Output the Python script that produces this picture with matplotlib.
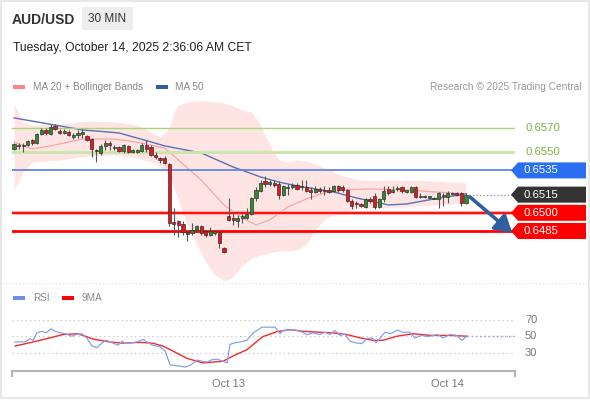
import matplotlib
matplotlib.use("Agg")
import matplotlib.pyplot as plt
from matplotlib.patches import Polygon, Rectangle, FancyBboxPatch
from matplotlib.transforms import blended_transform_factory
import numpy as np

plt.rcParams["font.family"] = ["Liberation Sans", "DejaVu Sans"]

W, H = 590, 400

# ── Price data (30 min candles, AUD/USD) ─────────────────────────────
OPEN = [.6553, .6556, .6555, .6556, .6560, .6558, .6565, .6568, .6565, .6572,
        .6567, .6566, .6567, .6563, .6564, .6566, .6563, .6561, .6552, .6549,
        .6555, .6558, .6554, .6554, .6551, .6555, .6551, .6550, .6551, .6556,
        .6554, .6548, .6545, .6545, .6540, .6492, .6493, .6491, .6484, .6483,
        .6486, .6489, .6485, .6482, .6484, .6484, .6471, .6497, .6496, .6493,
        .6496, .6496, .6499, .6512, .6518, .6526, .6524, .6525, .6524, .6515,
        .6521, .6521, .6523, .6521, .6521, .6519, .6517, .6520, .6519, .6519,
        .6518, .6522, .6521, .6519, .6510, .6508, .6507, .6505, .6511, .6514,
        .6505, .6511, .6520, .6517, .6520, .6521, .6518, .6517, .6521, .6513,
        .6514, .6513, .6512, .6511, .6515, .6513, .6516, .6516, .6516, .6508]
HIGH = [.6558, .6558, .6558, .6560, .6561, .6566, .6570, .6570, .6573, .6573,
        .6569, .6569, .6568, .6566, .6568, .6569, .6564, .6562, .6553, .6557,
        .6560, .6559, .6556, .6555, .6557, .6556, .6553, .6553, .6558, .6560,
        .6556, .6550, .6546, .6547, .6541, .6504, .6494, .6493, .6486, .6492,
        .6490, .6490, .6486, .6488, .6485, .6485, .6472, .6512, .6501, .6498,
        .6499, .6504, .6513, .6521, .6527, .6530, .6527, .6527, .6526, .6523,
        .6524, .6525, .6525, .6527, .6527, .6521, .6522, .6521, .6522, .6521,
        .6523, .6523, .6523, .6520, .6511, .6510, .6508, .6512, .6513, .6516,
        .6512, .6522, .6522, .6522, .6522, .6522, .6519, .6522, .6522, .6516,
        .6515, .6514, .6513, .6517, .6516, .6518, .6517, .6517, .6517, .6516]
LOW = [.6552, .6553, .6550, .6555, .6556, .6557, .6564, .6564, .6564, .6568,
       .6565, .6565, .6563, .6561, .6562, .6562, .6559, .6546, .6542, .6548,
       .6552, .6552, .6552, .6550, .6549, .6549, .6549, .6549, .6550, .6550,
       .6547, .6544, .6541, .6540, .6489, .6482, .6480, .6482, .6477, .6482,
       .6484, .6482, .6480, .6481, .6482, .6471, .6467, .6493, .6490, .6488,
       .6492, .6495, .6498, .6510, .6517, .6521, .6522, .6521, .6511, .6514,
       .6515, .6520, .6519, .6519, .6517, .6511, .6516, .6516, .6515, .6516,
       .6517, .6517, .6517, .6509, .6503, .6504, .6505, .6504, .6508, .6503,
       .6504, .6509, .6515, .6516, .6518, .6516, .6516, .6516, .6512, .6512,
       .6512, .6511, .6511, .6504, .6506, .6508, .6515, .6514, .6506, .6507]
CLOSE = [.6557, .6555, .6556, .6559, .6558, .6565, .6568, .6566, .6571, .6569,
         .6566, .6567, .6564, .6564, .6566, .6566, .6560, .6553, .6551, .6555,
         .6558, .6556, .6554, .6551, .6556, .6550, .6551, .6552, .6556, .6553,
         .6548, .6546, .6544, .6541, .6492, .6491, .6490, .6484, .6483, .6486,
         .6489, .6483, .6482, .6485, .6484, .6475, .6468, .6494, .6494, .6496,
         .6497, .6499, .6512, .6519, .6525, .6524, .6525, .6523, .6515, .6522,
         .6521, .6523, .6520, .6522, .6518, .6517, .6520, .6518, .6518, .6517,
         .6522, .6519, .6519, .6510, .6506, .6507, .6506, .6511, .6510, .6505,
         .6511, .6518, .6516, .6519, .6520, .6518, .6518, .6521, .6513, .6514,
         .6513, .6513, .6512, .6516, .6514, .6516, .6516, .6515, .6508, .6515]

# MA 20
MA20_IDX = [0, 4, 8, 15, 22, 28, 33, 36, 41, 46, 50, 53, 56, 60, 64, 68, 72, 78, 86, 92, 99]
MA20 = [.65584, .65527, .65552, .65609, .65609, .65576, .65535, .65436, .65271, .65065,
        .64958, .64900, .64941, .65048, .65114, .65164, .65189, .65197, .65189, .65172, .65156]

# MA 50
MA50_IDX = [0, 15, 23, 30, 33, 41, 48, 54, 58, 62, 70, 75, 82, 86, 92, 99]
MA50 = [.65783, .65684, .65659, .65585, .65552, .65494, .65378, .65296, .65254, .65222,
        .65172, .65123, .65065, .65073, .65114, .65156]

# Bollinger bands
BB_IDX = [0, 2, 4, 10, 16, 22, 27, 30, 32, 34, 35, 36, 38, 40, 42, 44, 46, 48, 50,
          52, 54, 56, 58, 60, 62, 64, 66, 68, 72, 76, 85, 92, 99]
BB_UP = [.65898, .65750, .65725, .65733, .65758, .65750, .65725, .65667, .65626, .65700,
         .65832, .65890, .65915, .65923, .65923, .65915, .65906, .65882, .65849, .65832,
         .65725, .65560, .65436, .65420, .65436, .65428, .65403, .65370, .65304, .65271,
         .65271, .65263, .65246]
BB_LO = [.65189, .65337, .65420, .65436, .65469, .65477, .65453, .65420, .65387, .65312,
         .65205, .65106, .64900, .64735, .64595, .64487, .64438, .64471, .64562, .64628,
         .64652, .64669, .64685, .64685, .64694, .64735, .64859, .64949, .65015, .65040,
         .65048, .65065, .65081]

# RSI and its 9 period MA
RSI_POS = [0.2, 2.4, 3.5, 4.2, 5.0, 6.1, 7.0, 8.1, 9.0, 10.1, 11.2, 12.7, 13.6, 14.9, 16.0,
           17.1, 18.2, 19.3, 20.2, 21.5, 22.8, 23.7, 24.3, 25.8, 26.9, 28.3, 29.4, 30.4,
           32.0, 33.1, 34.2, 35.9, 37.5, 38.6, 40.1, 41.2, 42.3, 43.4, 44.5, 45.6, 46.7,
           47.3, 48.4, 49.5, 51.0, 52.4, 54.3, 56.1, 57.2, 58.3, 58.9, 61.1, 62.7, 64.2,
           65.5, 67.0, 68.1, 69.2, 70.3, 71.4, 72.5, 73.6, 74.7, 76.2, 77.3, 78.4, 79.3,
           80.4, 81.3, 82.4, 84.1, 85.2, 86.7, 87.8, 89.4, 90.7, 92.7, 94.0, 95.5, 97.0,
           98.1, 99.2]
RSI = [43, 43, 47, 45, 54, 56, 54, 59, 56, 54, 53, 50, 52, 53, 47,
       38, 36, 42, 45, 42, 39, 44, 41, 42, 43, 46, 42, 39,
       37, 32, 15, 14, 12.5, 14.5, 21, 19.5, 18.5, 21.5, 22, 20, 17.5,
       40, 42, 43, 45, 54, 61, 61, 61, 53, 57, 58, 56, 52,
       54, 52, 55, 52, 57, 51, 52.5, 44, 42, 41, 47, 48, 42,
       49, 55, 53, 57.5, 54.5, 55, 48, 51, 49.5, 52, 48, 52, 51,
       45, 50]
RSI_MA_POS = [0.2, 4.2, 7.9, 10.7, 13.8, 15.1, 17.3, 21.0, 23.9, 27.6, 30.4, 32.6, 34.8,
              37.9, 41.4, 43.6, 45.8, 48.0, 51.0, 54.5, 57.6, 60.5, 63.3, 66.4, 69.9,
              72.9, 75.8, 78.6, 80.8, 83.9, 87.4, 91.1, 95.5, 99.2]
RSI_MA = [38, 43, 48, 52, 53, 51, 46.5, 43, 41.5, 42.5, 41.5, 38, 32,
          23, 17.5, 18.5, 19.5, 26, 33.5, 49.5, 55.5, 58, 56, 55, 54,
          52, 48, 45, 45, 50, 53, 51, 51, 50]

# Key levels
RES2, RES1, PIVOT, LAST, SUP1, SUP2 = 0.6570, 0.6550, 0.6535, 0.6515, 0.6500, 0.6485
DAY_TICKS = [47, 95]
DAY_LABELS = ["Oct 13", "Oct 14"]

GREEN = "#2e8b2e"
RED = "#e8161b"


def fx(x):
    return x / W


def fy(y):
    return 1 - y / H


fig = plt.figure(figsize=(W / 100, H / 100), dpi=100)

# frame
fig.add_artist(Rectangle((fx(1), fy(398)), fx(588), 397 / H, transform=fig.transFigure,
                         fill=False, edgecolor="#e4e4e4", lw=1.2))

# ── Header ────────────────────────────────────────────────────────────
fig.text(fx(12), fy(20), "AUD/USD", fontsize=10, fontweight="bold", color="#333", va="center")
fig.add_artist(FancyBboxPatch((fx(82), fy(30)), fx(51), 23 / H, transform=fig.transFigure,
                              boxstyle="square,pad=0", facecolor="#ededed", edgecolor="none"))
fig.text(fx(107.5), fy(19.5), "30 MIN", fontsize=8.5, color="#333", ha="center", va="center")
fig.text(fx(13), fy(48), "Tuesday, October 14, 2025 2:36:06 AM CET", fontsize=8.7,
         color="#222", va="center")

# legend row
fig.add_artist(Rectangle((fx(13), fy(88.5)), fx(12), 4 / H, transform=fig.transFigure,
                         facecolor="#ff8585", edgecolor="none"))
fig.text(fx(33), fy(86.5), "MA 20 + Bollinger Bands", fontsize=7.2, color="#888", va="center")
fig.add_artist(Rectangle((fx(156), fy(88.5)), fx(12), 4 / H, transform=fig.transFigure,
                         facecolor="#2f5da8", edgecolor="none"))
fig.text(fx(175), fy(86.5), "MA 50", fontsize=7.2, color="#888", va="center")
fig.text(fx(581), fy(86.5), "Research \u00a9 2025 Trading Central", fontsize=7.3, color="#999",
         va="center", ha="right")

# ── Main price panel ─────────────────────────────────────────────────
ax = fig.add_axes([fx(12), fy(283), 503 / W, 188 / H])
x_left, x_right = -0.44, 109.75
ax.set_xlim(x_left, x_right)
ax.set_ylim(0.64421, 0.65972)
ax.axis("off")

ax.fill_between(BB_IDX, BB_LO, BB_UP, color="#ffe2e2", lw=0, alpha=0.9, zorder=1)
ax.plot(MA20_IDX, MA20, color="#f8a6a6", lw=0.9, zorder=2)
ax.plot(MA50_IDX, MA50, color="#5673b5", lw=1.0, zorder=2)

ax.axhline(RES2, color="#a8d67a", lw=1.0, zorder=3)
ax.axhline(RES1, color="#c8e6aa", lw=2.0, zorder=3)
ax.axhline(PIVOT, color="#5f85e8", lw=1.3, zorder=3)
ax.axhline(SUP1, color="#ffb0b0", lw=3.0, zorder=3)
ax.axhline(SUP1, color="#ff0000", lw=1.3, zorder=3)
ax.axhline(SUP2, color="#ff0000", lw=2.0, zorder=3)

idx = np.arange(len(CLOSE))
o, h, l, c = map(np.array, (OPEN, HIGH, LOW, CLOSE))
ax.vlines(idx, l, h, color="#555", lw=0.8, zorder=4)
body = np.maximum(np.abs(c - o), 0.00012)
cols = [GREEN if cc >= oo else RED for oo, cc in zip(o, c)]
ax.bar(idx, body, bottom=np.minimum(o, c) - (body - np.abs(c - o)) / 2, width=0.7,
       color=cols, edgecolor="#333", linewidth=0.5, zorder=5)

# last price dotted line
ax.hlines(LAST, len(CLOSE) - 0.3, x_right, color="#999", lw=1.0, linestyles=(0, (1, 1.5)), zorder=3)

# target arrow
ax.annotate("", xy=(x_right - 0.6, SUP2 - 0.00016), xytext=(len(CLOSE) - 0.1, LAST - 0.0002),
            arrowprops=dict(arrowstyle="-|>,head_length=1.0,head_width=0.6",
                            color="#2f5f9e", lw=2.6, shrinkA=0, shrinkB=0),
            annotation_clip=False, zorder=6)

# level tags on the right
tr = blended_transform_factory(fig.transFigure, ax.transData)
half = 8 / 12118.0


def tag(level, color, text_color="white"):
    pts = [(fx(511), level), (fx(518), level + half), (fx(586), level + half),
           (fx(586), level - half), (fx(518), level - half)]
    ax.add_patch(Polygon(pts, closed=True, transform=tr, facecolor=color,
                         edgecolor="none", clip_on=False, zorder=7))
    ax.text(fx(524), level, f"{level:.4f}", transform=tr, color=text_color,
            fontsize=8.2, va="center", ha="left", clip_on=False, zorder=8)


for lvl in (RES2, RES1):
    ax.text(fx(525), lvl, f"{lvl:.4f}", transform=tr, color="#7cb342", fontsize=8.2,
            va="center", ha="left", clip_on=False)
tag(PIVOT, "#2a6ef2")
tag(LAST, "#333333")
tag(SUP1, "#ff0000")
tag(SUP2, "#ff0000")

# separator
fig.add_artist(plt.Line2D([fx(2), fx(588)], [fy(283), fy(283)], transform=fig.transFigure,
                          color="#dddddd", lw=0.8, linestyle=(0, (1, 2))))

# ── RSI panel ────────────────────────────────────────────────────────
fig.add_artist(Rectangle((fx(13), fy(300)), fx(12), 4 / H, transform=fig.transFigure,
                         facecolor="#6d8fe8", edgecolor="none"))
fig.text(fx(33), fy(298), "RSI", fontsize=7.2, color="#888", va="center")
fig.add_artist(Rectangle((fx(62), fy(300)), fx(12), 4 / H, transform=fig.transFigure,
                         facecolor="#ff0000", edgecolor="none"))
fig.text(fx(82), fy(298), "9MA", fontsize=7.2, color="#888", va="center")

ax2 = fig.add_axes([fx(12), fy(370.7), 503 / W, (370.7 - 305) / H])
ax2.set_xlim(x_left, x_right)
ax2.set_ylim(8, 88)
for s in ("top", "right", "left"):
    ax2.spines[s].set_visible(False)
ax2.spines["bottom"].set_color("#b5b5b5")
ax2.spines["bottom"].set_linewidth(1.5)
ax2.set_yticks([])
ax2.set_xticks(DAY_TICKS)
ax2.set_xticklabels(DAY_LABELS, fontsize=8, color="#777")
ax2.tick_params(axis="x", length=0, pad=6)
for xe in (0, 1):
    ax2.plot([xe, xe], [0, -0.08], transform=ax2.transAxes, color="#b5b5b5", lw=1.5,
             clip_on=False)

tr2 = blended_transform_factory(fig.transFigure, ax2.transData)
for lvl in (70, 50, 30):
    ax2.axhline(lvl, color="#c4c4c4", lw=0.9, linestyle=(0, (1, 2.5)))
    ax2.text(fx(525), lvl, str(lvl), transform=tr2, fontsize=8, color="#777",
             va="center", ha="left")

ax2.plot(RSI_MA_POS, RSI_MA, color="#f22a2a", lw=1.0, zorder=3)
ax2.plot(RSI_POS, RSI, color="#86a0ec", lw=0.9, zorder=4)
ax2.hlines(RSI[-1], RSI_POS[-1], x_right, color="#86a0ec", lw=1.0,
           linestyles=(0, (1, 2)), zorder=2)

fig.savefig("out.png", dpi=100)
